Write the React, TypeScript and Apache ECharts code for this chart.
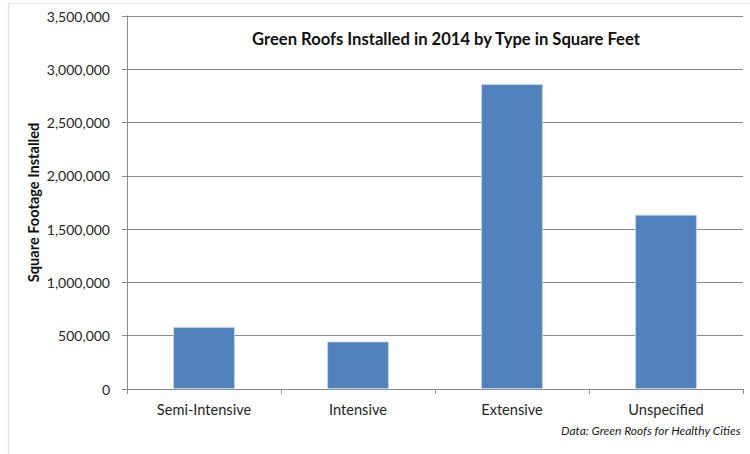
import React, { useEffect, useRef } from "react";
import * as echarts from "echarts";

const categories = ["Semi-Intensive", "Intensive", "Extensive", "Unspecified"];
const squareFeet = [582000, 445000, 2860000, 1635000];
const yTicks = { min: 0, max: 3500000, interval: 500000 };

const titleText = "Green Roofs Installed in 2014 by Type in Square Feet";
const yAxisTitle = "Square Footage Installed";
const sourceNote = "Data: Green Roofs for Healthy Cities";

const FONT = "Lato, 'Open Sans', sans-serif";

export default function App() {
  const ref = useRef<HTMLDivElement>(null);

  useEffect(() => {
    if (!ref.current) return;
    const chart = echarts.init(ref.current, undefined, { renderer: "svg" });
    chart.setOption({
      animation: false,
      backgroundColor: "#ffffff",
      textStyle: { fontFamily: FONT },
      title: {
        text: titleText,
        left: 441,
        top: 25,
        textAlign: "center",
        textStyle: { fontFamily: FONT, fontSize: 16.6, fontWeight: "bold", color: "#111111" },
      },
      grid: { left: 127, right: 7, top: 16, bottom: 65, containLabel: false },
      xAxis: {
        type: "category",
        data: categories,
        axisLine: { lineStyle: { color: "#8c8c8c", width: 1 } },
        axisTick: { show: true, length: 5, lineStyle: { color: "#8c8c8c" } },
        axisLabel: { margin: 13, fontSize: 14.6, color: "#262626", fontFamily: FONT },
      },
      yAxis: {
        type: "value",
        min: yTicks.min,
        max: yTicks.max,
        interval: yTicks.interval,
        name: yAxisTitle,
        nameLocation: "middle",
        nameRotate: 90,
        nameGap: 86,
        nameMoveOverlap: false,
        nameTextStyle: { fontFamily: FONT, fontSize: 14.6, fontWeight: "bold", color: "#111111" },
        axisLine: { show: true, lineStyle: { color: "#8c8c8c", width: 1 } },
        axisTick: { show: true, length: 5, lineStyle: { color: "#8c8c8c" } },
        axisLabel: {
          margin: 17,
          fontSize: 14,
          color: "#262626",
          fontFamily: FONT,
          formatter: (v: number) => v.toLocaleString("en-US"),
        },
        splitLine: { show: true, lineStyle: { color: "#8c8c8c", width: 1 } },
      },
      series: [
        {
          type: "bar",
          data: squareFeet,
          barWidth: "40%",
          itemStyle: { color: "#4f81bd", borderColor: "#c5d5ea", borderWidth: 0.8 },
        },
      ],
      graphic: [
        {
          type: "line",
          shape: { x1: 8.5, y1: 3.5, x2: 750, y2: 3.5 },
          style: { stroke: "#c8c8c8", lineWidth: 1, lineDash: [1, 1] },
        },
        {
          type: "line",
          shape: { x1: 8.5, y1: 3.5, x2: 8.5, y2: 454 },
          style: { stroke: "#c8c8c8", lineWidth: 1.5, lineDash: [1, 1] },
        },
        {
          type: "text",
          left: 561,
          top: 424,
          style: {
            text: sourceNote,
            fontFamily: FONT,
            fontSize: 12,
            fontStyle: "italic",
            fill: "#1a1a1a",
          },
        },
      ],
    });
    return () => chart.dispose();
  }, []);

  return (
    <div
      ref={ref}
      style={{ position: "absolute", left: 0, top: 0, width: 750, height: 454 }}
    />
  );
}
